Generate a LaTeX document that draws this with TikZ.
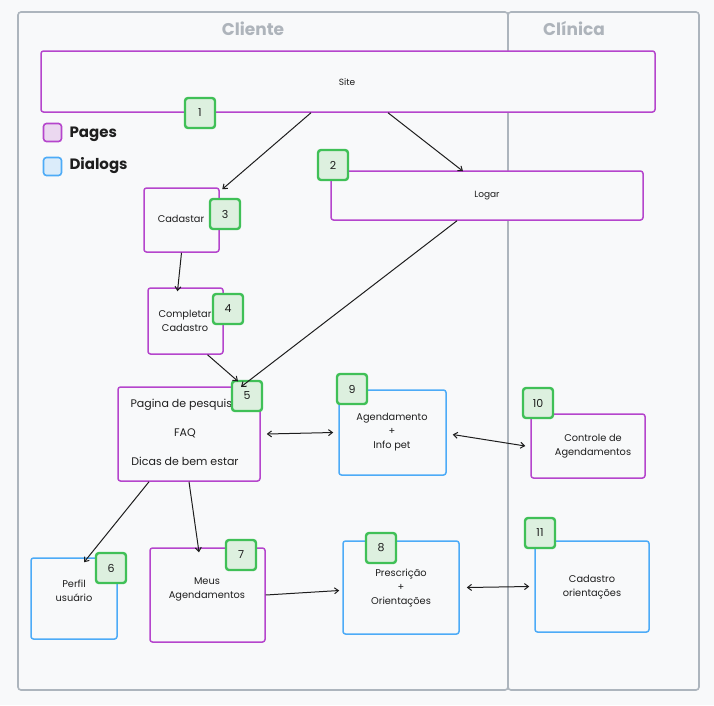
\documentclass[tikz,border=0pt]{standalone}
\usepackage{fontspec}
\setmainfont{Poppins}
\usetikzlibrary{arrows.meta}
\definecolor{bgc}{HTML}{F8F9FA}
\definecolor{lanec}{HTML}{ADB5BD}
\definecolor{titlec}{HTML}{AEB4BB}
\definecolor{pagec}{HTML}{B545CC}
\definecolor{pagefill}{HTML}{EBD8F0}
\definecolor{dlgc}{HTML}{4DABF7}
\definecolor{dlgfill}{HTML}{DBECFA}
\definecolor{badgec}{HTML}{40C057}
\definecolor{badgefill}{HTML}{DDF0DF}
\definecolor{inkc}{HTML}{1E1E1E}
\tikzset{
  lane/.style={draw=lanec, line width=1.6pt, rounded corners=3pt},
  lanetitle/.style={text=titlec, font=\fontsize{17}{20}\selectfont\bfseries},
  pagebox/.style={draw=pagec, line width=1.5pt, rounded corners=2.5pt, fill=bgc},
  dlgbox/.style={draw=dlgc, line width=1.5pt, rounded corners=2.5pt, fill=bgc},
  badge/.style={draw=badgec, fill=badgefill, line width=2.4pt, rounded corners=3pt, minimum width=30pt, minimum height=30pt, inner sep=0pt, text=inkc, font=\fontsize{11}{13}\selectfont},
  txt/.style={text=inkc, align=center, font=\fontsize{9.8}{14}\selectfont},
  smalltxt/.style={text=inkc, align=center, font=\fontsize{9}{12}\selectfont},
  legtxt/.style={text=inkc, anchor=west, font=\fontsize{15}{18}\selectfont\bfseries},
  arr/.style={draw=inkc, line width=1pt, -{Straight Barb[length=4pt,width=6pt]}},
  darr/.style={draw=inkc, line width=1pt, {Straight Barb[length=4pt,width=6pt]}-{Straight Barb[length=4pt,width=6pt]}}
}
\begin{document}
\begin{tikzpicture}[x=1pt,y=-1pt]
\useasboundingbox[fill=bgc] (0,0) rectangle (714,705);
% lanes
\node[lane, minimum width=490pt, minimum height=678pt] (cliente) at (263,351) {};
\node[lane, minimum width=191pt, minimum height=678pt] (clinica) at (603.5,351) {};
\node[lanetitle] (tcli) at (253,29) {Cliente};
\node[lanetitle] (tcln) at (574,29) {Clínica};
% pages and dialogs
\node[pagebox, minimum width=614pt, minimum height=61pt] (site) at (348,81.5) {};
\node[smalltxt] (sitet) at (347,82) {Site};
\node[pagebox, minimum width=312pt, minimum height=49pt] (logar) at (487,195.5) {};
\node[smalltxt] (logart) at (487,196) {Logar};
\node[pagebox, minimum width=75pt, minimum height=64pt] (cad) at (181.5,220) {};
\node[txt] (cadt) at (181,219) {Cadastar};
\node[pagebox, minimum width=75pt, minimum height=66pt] (comp) at (185.5,321) {};
\node[txt] (compt) at (185,321) {Completar\\Cadastro};
\node[pagebox, minimum width=142pt, minimum height=94pt] (pag) at (189,434) {};
\node[txt, font=\fontsize{11}{29}\selectfont] (pagt) at (185,432) {Pagina de pesquisa\\FAQ\\Dicas de bem estar};
\node[dlgbox, minimum width=107pt, minimum height=85pt] (agend) at (392.5,432.5) {};
\node[txt] (agendt) at (392,432) {Agendamento\\+\\Info pet};
\node[pagebox, minimum width=114pt, minimum height=64pt] (ctrl) at (588,446) {};
\node[txt] (ctrlt) at (593,446) {Controle de\\Agendamentos};
\node[dlgbox, minimum width=86pt, minimum height=81pt] (perfil) at (74,598.5) {};
\node[txt] (perfilt) at (74,591) {Perfil\\usuário};
\node[pagebox, minimum width=115pt, minimum height=94pt] (meus) at (207.5,595) {};
\node[txt] (meust) at (207,589) {Meus\\Agendamentos};
\node[dlgbox, minimum width=116pt, minimum height=93pt] (presc) at (401,587.5) {};
\node[txt] (presct) at (401,588) {Prescrição\\+\\Orientações};
\node[dlgbox, minimum width=114pt, minimum height=91pt] (cador) at (592,586.5) {};
\node[txt] (cadort) at (592,587) {Cadastro\\orientações};
% legend
\node[draw=pagec, fill=pagefill, line width=1.6pt, rounded corners=3pt, minimum width=18pt, minimum height=18pt, inner sep=0pt] (legp) at (52.5,132.5) {};
\node[legtxt] (legpt) at (66,134) {Pages};
\node[draw=dlgc, fill=dlgfill, line width=1.6pt, rounded corners=3pt, minimum width=18pt, minimum height=18pt, inner sep=0pt] (legd) at (52.5,166.5) {};
\node[legtxt] (legdt) at (66,166) {Dialogs};
% badges
\node[badge] (b1) at (200,113) {1};
\node[badge] (b2) at (333,165) {2};
\node[badge] (b3) at (225,214) {3};
\node[badge] (b4) at (228,309) {4};
\node[badge] (b5) at (247,396) {5};
\node[badge] (b6) at (111,568) {6};
\node[badge] (b7) at (241,555) {7};
\node[badge] (b8) at (381,548) {8};
\node[badge] (b9) at (352,389) {9};
\node[badge] (b10) at (538,403) {10};
\node[badge] (b11) at (540,533) {11};
% connectors
\draw[arr] ([xshift=-37pt]site.south) -- ([xshift=2.5pt,yshift=-2pt]cad.north east);
\draw[arr] ([xshift=40pt]site.south) -- ([xshift=-24pt,yshift=-1pt]logar.north);
\draw[arr] ([xshift=-30pt]logar.south) -- ([xshift=-6pt,yshift=-7pt]b5.north);
\draw[arr] (cad.south) -- ([xshift=-8pt,yshift=-4pt]comp.north);
\draw[arr] ([xshift=22pt]comp.south) -- ([xshift=-9pt,yshift=-1.5pt]b5.north);
\draw[darr] ([xshift=6pt]pag.east) -- ([xshift=-5pt]agend.west);
\draw[darr] ([xshift=6pt,yshift=-2pt]agend.east) -- ([xshift=-5pt]ctrl.west);
\draw[arr] ([xshift=-40pt]pag.south) -- ([xshift=10pt,yshift=-5pt]perfil.north);
\draw[arr] (pag.south) -- ([xshift=-8.5pt,yshift=-5pt]meus.north);
\draw[arr] (meus.east) -- ([xshift=-3pt,yshift=-3pt]presc.west);
\draw[darr] ([xshift=7pt]presc.east) -- ([xshift=-5pt]cador.west);
\end{tikzpicture}
\end{document}
